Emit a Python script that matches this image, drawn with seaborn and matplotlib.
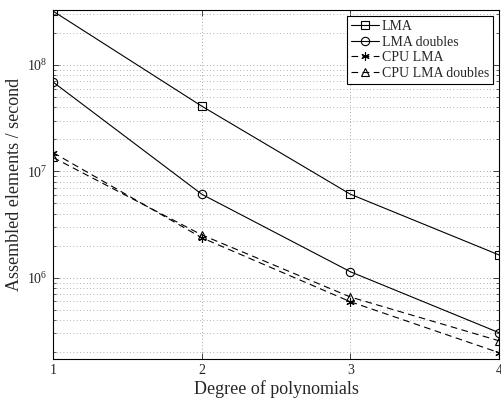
import matplotlib
matplotlib.use("Agg")
import matplotlib.pyplot as plt
import seaborn as sns
import pandas as pd
import numpy as np
from matplotlib.ticker import LogLocator, NullFormatter, FixedLocator

degrees = [1, 2, 3, 4]
lma = [3.2e8, 4.1e7, 6.1e6, 1.64e6]
lma_doubles = [6.9e7, 6.1e6, 1.14e6, 3.05e5]
cpu_lma = [1.5e7, 2.38e6, 5.96e5, 1.98e5]
cpu_lma_doubles = [1.35e7, 2.53e6, 6.6e5, 2.56e5]
series_names = ["LMA", "LMA doubles", "CPU LMA", "CPU LMA doubles"]
x_label = "Degree of polynomials"
y_label = "Assembled elements / second"

sns.set_theme(style="ticks")
plt.rcParams["font.family"] = ["Liberation Serif", "DejaVu Serif"]
plt.rcParams["mathtext.fontset"] = "stix"

rows = []
for name, vals in zip(series_names, [lma, lma_doubles, cpu_lma, cpu_lma_doubles]):
    for d, v in zip(degrees, vals):
        rows.append({"degree": d, "value": v, "series": name})
df = pd.DataFrame(rows)

fig = plt.figure(figsize=(5.01, 4.01), dpi=100)
ax = fig.add_axes([0.106, 0.105, 0.89, 0.87])

styles = {
    "LMA": dict(marker="s", ls="-"),
    "LMA doubles": dict(marker="o", ls="-"),
    "CPU LMA": dict(marker=(6, 2, 0), ls=(0, (6, 4))),
    "CPU LMA doubles": dict(marker="^", ls=(0, (6, 4))),
}
for name in series_names:
    sub = df[df["series"] == name]
    st = styles[name]
    sns.lineplot(data=sub, x="degree", y="value", ax=ax, color="black",
                 linewidth=0.8, linestyle=st["ls"], marker=st["marker"],
                 markersize=6, markerfacecolor="none", markeredgecolor="black",
                 markeredgewidth=0.8, label=name, legend=False)

ax.set_yscale("log")
ax.set_xlim(1, 4)
ax.set_ylim(1.73e5, 3.28e8)
ax.xaxis.set_major_locator(FixedLocator(degrees))
ax.set_xticklabels([str(d) for d in degrees])
ax.yaxis.set_major_locator(LogLocator(base=10, numticks=10))
ax.yaxis.set_minor_locator(LogLocator(base=10, subs=np.arange(2, 10), numticks=20))
ax.yaxis.set_minor_formatter(NullFormatter())

ax.grid(True, which="major", axis="both", linestyle=(0, (1, 3)), color="#888888", linewidth=0.6)
ax.grid(True, which="minor", axis="y", linestyle=(0, (1, 3)), color="#999999", linewidth=0.6)
ax.tick_params(which="both", direction="in", top=True, right=True, labelsize=10, pad=4)
ax.tick_params(which="major", length=4, width=0.6)
ax.tick_params(which="minor", length=2, width=0.5)
for sp in ax.spines.values():
    sp.set_linewidth(0.8)
    sp.set_color("black")

ax.set_xlabel(x_label, fontsize=13, labelpad=2)
ax.set_ylabel(y_label, fontsize=13, labelpad=3)

handles, labels = ax.get_legend_handles_labels()
leg = ax.legend(handles, labels, loc="upper right", fontsize=10, frameon=True,
                fancybox=False, edgecolor="black", framealpha=1,
                borderpad=0.3, labelspacing=0.2, handlelength=2.0,
                handletextpad=0.2, borderaxespad=0.4)
leg.get_frame().set_linewidth(0.8)

fig.savefig("out.png", dpi=100)
